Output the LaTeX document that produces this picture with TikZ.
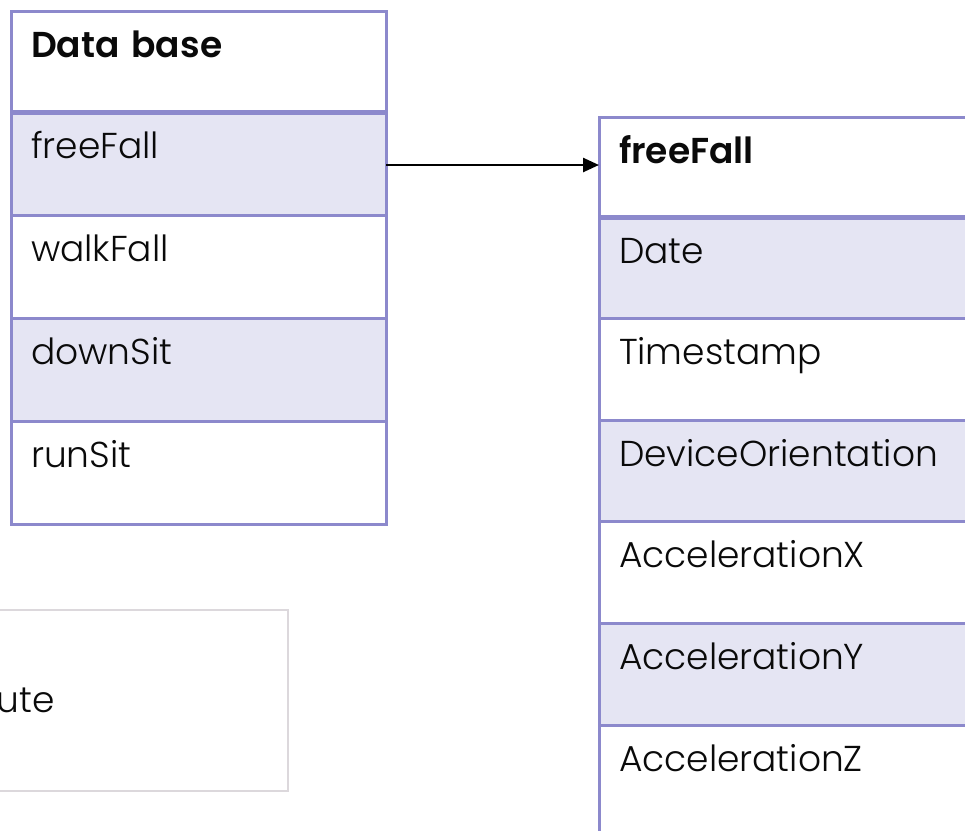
\documentclass[tikz,border=0pt]{standalone}
\usepackage{fontspec}
\setmainfont{Poppins Light}[BoldFont={Poppins SemiBold}]
\usetikzlibrary{arrows.meta}
\definecolor{bd}{RGB}{140,137,204}
\definecolor{rowfill}{RGB}{229,229,243}
\definecolor{gbox}{RGB}{220,216,220}
\definecolor{txt}{RGB}{10,10,10}
\begin{document}
\begin{tikzpicture}[x=1pt,y=-1pt,
  cell/.style={draw=bd, line width=3pt, outer sep=0pt, anchor=north west,
    inner xsep=20pt, inner ysep=0pt, align=left, text=txt, text height=46pt,
    font=\fontsize{36}{42}\selectfont},
  cellL/.style={cell, text width=335pt, text depth=57pt},
  hdrL/.style={cell, text width=335pt, text depth=55pt},
  cellR/.style={cell, text width=380pt, text depth=55.6pt},
  hdrR/.style={cell, text width=380pt, text depth=54pt},
  shade/.style={fill=rowfill},
  sepline/.style={draw=bd, line width=5pt},
  link/.style={draw=black, line width=2.5pt, -{Triangle[length=16pt,width=14pt]}},
  graybox/.style={draw=gbox, line width=2.5pt, outer sep=0pt, anchor=north west,
    minimum width=340pt, minimum height=181pt, inner sep=0pt},
  lbl/.style={inner sep=0pt, text=txt, font=\fontsize{36}{42}\selectfont}
]
\clip (0,0) rectangle (965,830);
\fill[white] (0,0) rectangle (965,830);

% left table
\node[hdrL] (db) at (11,11) {\bfseries Data base};
\node[cellL, shade] (ff) at (db.south west) {freeFall};
\node[cellL] (wf) at (ff.south west) {walkFall};
\node[cellL, shade] (ds) at (wf.south west) {downSit};
\node[cellL] (rs) at (ds.south west) {runSit};
\draw[sepline] (db.south west) -- (db.south east);

% right table
\node[hdrR] (rh) at (599,117) {\bfseries freeFall};
\node[cellR, shade] (c1) at (rh.south west) {Date};
\node[cellR] (c2) at (c1.south west) {Timestamp};
\node[cellR, shade] (c3) at (c2.south west) {DeviceOrientation};
\node[cellR] (c4) at (c3.south west) {AccelerationX};
\node[cellR, shade] (c5) at (c4.south west) {AccelerationY};
\node[cellR, text depth=70pt] (c6) at (c5.south west) {AccelerationZ};
\draw[sepline] (rh.south west) -- (rh.south east);

% connector
\coordinate (ffa) at ([yshift=-1.5pt]ff.east);
\draw[link] (ffa) -- (ffa -| rh.west);

% bottom-left box
\node[graybox] (gb) at (-52,610) {};
\node[lbl, anchor=base east] (gt) at (55,712) {ute};
\end{tikzpicture}
\end{document}
